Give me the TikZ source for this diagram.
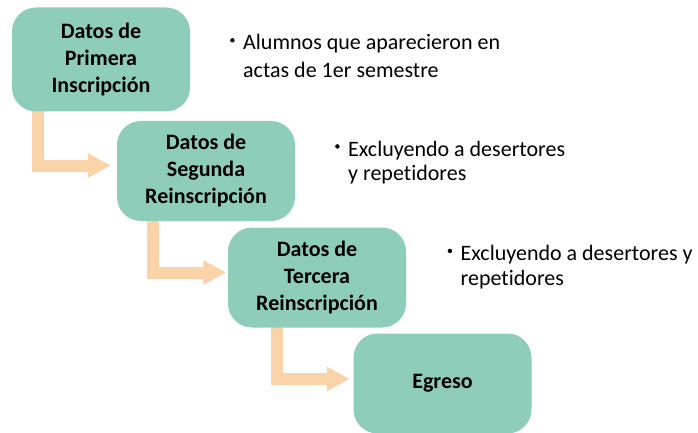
\documentclass[tikz,border=0pt]{standalone}
\usepackage{fontspec}
\setmainfont{Carlito}[Ligatures=NoCommon]
\usetikzlibrary{
    arrows.meta,
    calc,
    backgrounds,
    positioning
}
\definecolor{verdeetapa}{RGB}{143,205,187}
\definecolor{naranjaflecha}{RGB}{251,211,168}
\tikzset{
    etapa/.style={rectangle, rounded corners=24pt, fill=verdeetapa,
        minimum width=178pt, minimum height=100pt, align=center,
        font=\bfseries\fontsize{22}{27}\selectfont},
    nota/.style={anchor=base west, align=left, inner sep=0pt},
    flecha/.style={draw=naranjaflecha, line width=12pt, line join=miter,
        -{Triangle[length=23pt, width=23pt]}}
}
\newcommand{\punto}{\makebox[13pt][l]{\raisebox{7.5pt}{\tikz\fill (0,0) circle (2.2pt);}}}

\begin{document}
\begin{tikzpicture}[x=1pt, y=-1pt]
    \useasboundingbox (0,0) rectangle (698,433);
    % etapas
    \node[etapa, minimum height=104pt] (primera) at (101,59.5) {Datos de\\Primera\\Inscripción};
    \node[etapa] (segunda) at (206,171) {Datos de\\Segunda\\Reinscripción};
    \node[etapa] (tercera) at (317,277.5) {Datos de\\Tercera\\Reinscripción};
    \node[etapa] (egreso) at (442.5,383.5) {Egreso};
    % flechas
    \begin{scope}[on background layer]
        \draw[flecha] ($(primera.south west)+(26,-4)$) |- ($(segunda.west)+(-6,-5.5)$);
        \draw[flecha] ($(segunda.south west)+(36,-4)$) |- ($(tercera.west)+(-1.5,-5)$);
        \draw[flecha] ($(tercera.south west)+(49.5,-4)$) |- ($(egreso.west)+(-3.5,-4.5)$);
    \end{scope}
    % notas (base = ultima linea)
    \node[nota, font=\fontsize{22}{28}\selectfont] (nota1) at (230,78)
        {\punto Alumnos que aparecieron en\\\hspace*{13pt}actas de 1er semestre};
    \node[nota, font=\fontsize{22}{24.6}\selectfont] (nota2) at (335,180.7)
        {\punto Excluyendo a desertores\\\hspace*{13pt}y repetidores};
    \node[nota, font=\fontsize{22}{24.4}\selectfont] (nota3) at (447.5,285)
        {\punto Excluyendo a desertores y\\\hspace*{13pt}repetidores};
\end{tikzpicture}
\end{document}
